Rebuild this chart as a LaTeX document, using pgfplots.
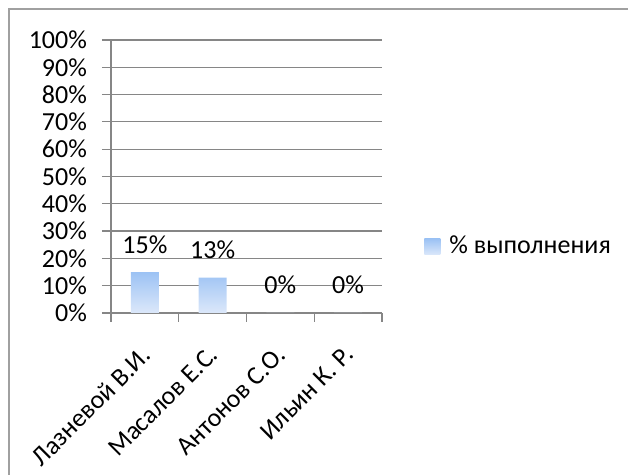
\documentclass[border=0pt]{standalone}
\usepackage{fontspec}
\setmainfont{Carlito}
\usepackage{pgfplots}
\pgfplotsset{compat=1.18}

\definecolor{gridgray}{HTML}{868686}
\definecolor{framegray}{HTML}{A0A0A0}
\definecolor{bartop}{HTML}{9CC2F4}
\definecolor{barbot}{HTML}{DCE8FA}

\begin{document}
\fontsize{13pt}{15.6pt}\selectfont
% 1 px of the reference = 0.5pt here
\begin{tikzpicture}
\useasboundingbox (0,0) rectangle (314pt,237.5pt);
\draw[framegray, line width=0.75pt] (4.5pt,0) -- (4.5pt,233pt) -- (314pt,233pt);
\begin{axis}[
    at={(55.5pt,81pt)}, anchor=south west,
    scale only axis,
    width=135.5pt, height=136.5pt,
    ybar, bar width=14pt,
    xmin=0.5, xmax=4.5,
    ymin=0, ymax=100,
    xtick={0.5,1.5,2.5,3.5,4.5},
    x tick label as interval,
    xticklabels={Лазневой В.И., Масалов Е.С., Антонов С.О., Ильин К. Р.},
    xticklabel style={xshift=-2.5pt, yshift=-11pt, rotate=45, anchor=north east, inner sep=0pt,
        font=\fontsize{13pt}{15.6pt}\selectfont},
    ytick={0,10,...,100},
    yticklabel={\pgfmathprintnumber{\tick}\%},
    yticklabel style={anchor=east, xshift=-3pt},
    /pgf/number format/assume math mode=true,
    axis x line*=bottom, axis y line*=left,
    axis line style={gridgray, line width=0.6pt, -},
    tick style={gridgray, line width=0.6pt},
    tick align=outside,
    major tick length=4.5pt,
    ymajorgrids,
    major grid style={gridgray, line width=0.6pt},
    nodes near coords={\pgfmathprintnumber{\pgfplotspointmeta}\%},
    every node near coord/.append style={anchor=base, yshift=9.5pt, font=\fontsize{13pt}{15.6pt}\selectfont},
    legend style={at={(1,0.2418)}, anchor=west, xshift=21pt, draw=none, fill=none,
        inner sep=0pt, font=\fontsize{13pt}{15.6pt}\selectfont},
    legend image code/.code={\shade[top color=bartop, bottom color=barbot] (0pt,-4pt) rectangle (8pt,4pt);},
    legend cell align=left,
    clip=false,
]
\addplot[draw=none, top color=bartop, bottom color=barbot]
    coordinates {(1,15) (2,13) (3,0) (4,0)};
\addlegendentry{\hspace{2.5pt}\% выполнения}
\end{axis}
\end{tikzpicture}
\end{document}
